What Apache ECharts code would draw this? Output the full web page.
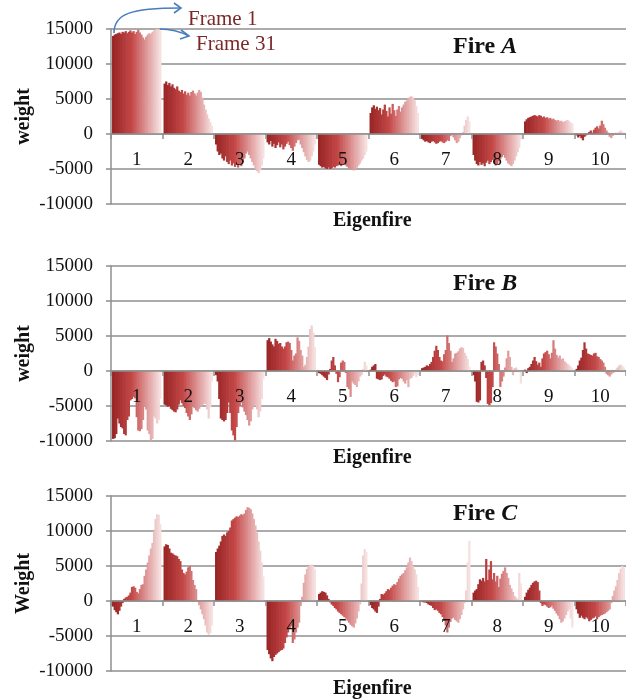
<!DOCTYPE html>
<html>
<head>
<meta charset="utf-8">
<script src="https://cdn.jsdelivr.net/npm/echarts@6/dist/echarts.min.js"></script>
<style>html,body{margin:0;padding:0;background:#fff}#chart{width:626px;height:700px}</style>
</head>
<body>
<div id="chart"></div>
<script>
// Categories (eigenfires) and frame count
const eigenfires = ['1','2','3','4','5','6','7','8','9','10'];
const frameLabels = Array.from({length: 31}, (_, i) => 'Frame ' + (i + 1));
const yTicks = [-10000, -5000, 0, 5000, 10000, 15000];

// Fire A: weights of eigenfire k for frames 1..31
const A1 = [14000,14200,14300,14400,14500,14300,14600,14500,14700,14400,14600,14800,14500,14700,14300,14600,14900,14500,14200,13800,13500,13900,14200,14400,14300,14600,14800,14900,15000,14900,14800];
const A2 = [7200,7500,7000,7300,6800,7100,6600,6400,6800,6200,6000,6300,5800,6100,5600,5900,5500,6000,6200,5800,5500,5900,6300,6000,5200,4200,3500,2800,2200,1700,1200];
const A3 = [-1500,-2500,-3000,-2800,-3500,-3800,-3200,-4000,-4300,-3800,-4500,-4200,-4700,-4400,-4800,-4300,-4600,-4000,-3500,-2800,-2500,-3000,-3500,-4000,-4500,-5000,-5300,-5600,-5200,-4500,-3500];
const A4 = [-1200,-1500,-1000,-1800,-1400,-2000,-1600,-1200,-1900,-1500,-2200,-1800,-1400,-1100,-1600,-2000,-2400,-1800,-1300,-900,-800,-1500,-2000,-2600,-3200,-3700,-4000,-3800,-3200,-2500,-1500];
const A5 = [-4400,-4600,-4800,-4700,-4900,-5000,-4800,-5000,-4900,-4700,-4800,-4600,-4500,-4400,-4600,-4300,-4200,-4500,-4700,-4900,-5000,-5100,-5200,-5000,-4800,-4500,-4200,-3800,-3500,-3000,-2500];
const A6 = [3000,3800,4100,3600,3900,3400,3700,2800,3500,4200,3300,2500,3800,2900,4300,3400,2600,3500,4000,3200,3800,4200,4600,4800,5100,5300,5400,5200,4800,4000,3000];
const A7 = [-700,-900,-1100,-1000,-1200,-1300,-1100,-1000,-1200,-1400,-1300,-1100,-1000,-1200,-1300,-1100,-900,-1000,-300,-100,-500,-900,-1300,-1100,-600,-200,300,1200,2000,2500,1800];
const A8 = [-3000,-3800,-4300,-4500,-4000,-4400,-4200,-4600,-4100,-3800,-4300,-4000,-3700,-4200,-4500,-4300,-3900,-3600,-3300,-3000,-3400,-3800,-4200,-4400,-4600,-4300,-3800,-3200,-2600,-2000,-800];
const A9 = [1800,2100,2300,2400,2500,2600,2700,2600,2500,2700,2600,2400,2500,2300,2400,2200,2300,2100,2200,2000,1900,2000,1800,1900,1700,1800,1900,2000,1800,1600,1500];
const A10 = [-200,-500,-300,-600,-900,-400,-200,100,300,500,200,600,900,1100,800,1200,1900,1400,900,500,200,-400,-600,-300,-100,200,100,300,500,300,200];

// Fire B
const B1 = [-9700,-9600,-9000,-6800,-7500,-8000,-8200,-9000,-9200,-7000,-6500,-4200,-4000,-3700,-3900,-6600,-8500,-8600,-8300,-7000,-5100,-5500,-8500,-9000,-9900,-9700,-6500,-6800,-7500,-7000,-4000];
const B2 = [-4800,-4900,-5100,-5000,-5400,-5600,-5800,-5900,-5500,-4800,-4200,-4600,-5000,-5300,-6000,-6500,-7000,-6200,-5000,-5300,-5600,-5800,-5400,-5100,-4900,-4700,-4700,-5500,-6800,-5200,-1500];
const B3 = [-600,-1500,-4000,-6800,-7000,-7200,-7000,-6000,-4500,-6000,-8500,-9200,-9900,-8000,-6000,-5000,-4500,-5200,-5800,-6300,-7000,-7800,-7200,-5500,-5000,-4800,-5500,-6600,-5800,-4000,-1200];
const B4 = [4400,4700,4200,3800,3500,4600,4300,3900,4000,3500,3200,3500,4100,4200,4000,3000,1500,2200,2500,4800,4300,3000,2200,600,900,2000,3500,6000,6500,5500,3400];
const B5 = [-300,-400,-600,-800,-1000,-1300,-500,300,1500,2000,800,-400,-1600,-900,1200,1500,1300,-300,-2300,-2600,-3700,-1500,-1800,-2000,-2300,-1500,-800,-600,300,1300,800];
const B6 = [200,600,800,1000,-1100,-1200,-1300,-1200,-700,-500,-800,-900,-1100,-1400,-1600,-1500,-2300,-2200,-1200,-1000,-1100,-1500,-1800,-1300,-2300,-1100,-1000,-700,-400,-900,-600];
const B7 = [400,500,600,800,700,1000,1300,2000,2900,3600,3000,2000,1500,1400,2400,3000,5100,4000,2900,1300,1800,2500,2600,2800,3200,3400,3300,2600,2200,1700,600];
const B8 = [-600,-1500,-4400,-4500,-4200,1300,1500,800,-1000,-4700,-4900,-4600,-2300,4100,3500,2500,1000,-2300,-1500,-800,500,1800,2900,2000,600,-600,400,500,200,-200,-1800];
const B9 = [200,-300,400,600,1000,1500,2000,1400,900,1200,600,1800,2500,2700,2900,2400,1800,2600,4400,3200,2300,1900,2200,1700,1800,1400,1200,1000,800,600,400];
const B10 = [300,800,1500,1900,3000,4100,3200,2500,2400,2300,2200,2500,2600,2100,2000,1700,1500,1200,600,-400,-600,-800,-500,-300,-200,200,500,800,900,700,500];

// Fire C
const C1 = [-800,-1300,-1600,-1900,-1400,-800,-300,300,500,600,800,1200,2000,2100,1900,1300,1100,1700,2300,2400,3600,4500,5500,6500,7500,8300,10000,11700,12400,12300,11000];
const C2 = [7800,8100,8000,7500,6900,6800,6600,6500,6400,6000,5700,4500,4000,3800,4200,4800,5000,4300,3000,2300,1700,0,-600,-1200,-1900,-2600,-3500,-4500,-4800,-4600,-3500];
const C3 = [7000,7500,7900,8500,9300,9500,9300,9800,10000,10500,11500,11700,11900,12100,12000,12200,12400,12300,12500,13000,13400,13300,13100,12500,11700,10800,9800,8500,7200,5500,3500];
const C4 = [-7000,-7600,-8200,-8600,-8000,-7700,-7500,-7300,-7100,-7000,-6800,-6000,-5200,-4500,-4000,-3600,-6000,-5500,-4500,-3800,-3100,-700,600,2600,3800,4600,5000,5100,5200,5000,4500];
const C5 = [1000,1200,1400,1300,1200,800,300,-200,-500,-700,-1000,-1200,-1500,-1700,-1900,-2100,-2300,-2500,-2800,-3100,-3400,-3600,-3800,-3200,-2500,-1500,-500,2500,6500,7400,7000];
const C6 = [-600,-1000,-1200,-1500,-1700,-800,300,1000,900,1100,1400,1700,1600,1900,2200,2400,2300,2700,3200,3600,3800,4000,4400,4800,5500,6200,5700,5000,4500,3800,2000];
const C7 = [-100,-200,-200,-300,-500,-600,-700,-1000,-1300,-1200,-1400,-1700,-1900,-2300,-2800,-3500,-4500,-3800,-3000,-2500,-2400,-2700,-2900,-3100,-2600,-2000,-1200,-300,1500,5500,8600];
const C8 = [1200,1500,1700,2400,3100,2900,3300,2800,6000,3000,4500,5700,3100,4000,2800,3600,2000,3200,3900,4300,4800,4000,3300,2300,1800,1300,700,500,300,4000,2500];
const C9 = [600,1200,1600,1900,2300,2600,2800,2900,2700,1500,-300,-700,-500,-600,-800,-1000,-900,-700,-1100,-1400,-1800,-2100,-2600,-3100,-2900,-2500,-2000,-1500,-1200,-2500,-3800];
const C10 = [-1200,-1800,-2400,-2100,-2400,-2600,-2300,-2500,-2900,-2700,-2500,-2400,-2200,-2600,-2300,-2100,-2000,-1900,-1800,-1600,-1400,-1200,-300,700,1500,2100,3000,4000,4600,5000,4800];

const fireA = [A1,A2,A3,A4,A5,A6,A7,A8,A9,A10];
const fireB = [B1,B2,B3,B4,B5,B6,B7,B8,B9,B10];
const fireC = [C1,C2,C3,C4,C5,C6,C7,C8,C9,C10];
const panels = [fireA, fireB, fireC];
const panelLetters = ['A','B','C'];
const yNames = ['weight','weight','Weight'];

const SERIF = '"Liberation Serif", "DejaVu Serif", serif';
const GRID = '#8f8f8f';
const gridTops = [29, 266, 496];
const gridH = 175;
const yMin = yTicks[0], yMax = yTicks[yTicks.length - 1];
// distance of the zero line above the bottom of each plot
const zeroOffset = gridH * (0 - yMin) / (yMax - yMin);

function frameColor(f) {
  const t = f / 30;
  const stops = [[0, [152, 36, 36]], [0.4, [196, 72, 72]], [1, [246, 224, 224]]];
  let a = stops[0], b = stops[1];
  if (t > stops[1][0]) { a = stops[1]; b = stops[2]; }
  const u = (t - a[0]) / (b[0] - a[0]);
  const c = a[1].map((v, i) => Math.round(v + (b[1][i] - v) * u));
  return 'rgb(' + c.join(',') + ')';
}

const grid = gridTops.map(t => ({ left: 111, top: t, width: 518, height: gridH, containLabel: false }));

const xAxis = gridTops.map((t, p) => ({
  type: 'category', gridIndex: p, data: eigenfires, z: 6,
  position: 'bottom', offset: -zeroOffset,
  axisLine: { onZero: false, lineStyle: { color: GRID, width: 1.5 } },
  axisTick: { show: true, interval: 0, length: 5, lineStyle: { color: GRID, width: 1.5 } },
  axisLabel: { interval: 0, margin: 17, fontFamily: SERIF, fontSize: 19, color: '#111' },
  splitLine: { show: false }
}));

const yAxis = gridTops.map((t, p) => ({
  type: 'value', gridIndex: p, min: yMin, max: yMax, interval: 5000,
  axisLine: { show: true, lineStyle: { color: GRID, width: 1.5 } },
  axisTick: { show: true, length: 5, lineStyle: { color: GRID, width: 1.5 } },
  axisLabel: { margin: 18, fontFamily: SERIF, fontSize: 19, color: '#111', formatter: v => String(v) },
  splitLine: { show: true, lineStyle: { color: GRID, width: 1.5 } },
  name: yNames[p], nameLocation: 'middle', nameGap: 77, nameMoveOverlap: false,
  nameTextStyle: { fontFamily: SERIF, fontWeight: 'bold', fontSize: 20, color: '#111' }
}));

const series = [];
panels.forEach((fire, p) => {
  frameLabels.forEach((fl, f) => {
    const col = frameColor(f);
    series.push({
      type: 'bar', name: fl, xAxisIndex: p, yAxisIndex: p,
      data: fire.map(g => g[f]),
      barGap: '-30%', barCategoryGap: '4%',
      itemStyle: { color: col },
      silent: true
    });
  });
});

const title = [];
panelLetters.forEach((L, p) => {
  title.push({
    text: '{n|Fire }{i|' + L + '}', left: 453, top: gridTops[p] + 6, padding: 0,
    textStyle: { rich: {
      n: { fontFamily: SERIF, fontSize: 24, color: '#111' },
      i: { fontFamily: SERIF, fontSize: 24, fontStyle: 'italic', color: '#111' }
    } }
  });
});
const eigenY = [220, 457, 688];
eigenY.forEach(y => {
  title.push({
    text: 'Eigenfire', left: 333, top: y - 9, padding: 0,
    textStyle: { fontFamily: SERIF, fontSize: 20, fontWeight: 'bold', color: '#111' }
  });
});

const ARROW = { stroke: '#4a7ebb', fill: null, lineWidth: 1.6 };
const chart = echarts.init(document.getElementById('chart'), null, { renderer: 'canvas' });
chart.setOption({
  animation: false,
  backgroundColor: '#fff',
  title: title,
  grid: grid,
  xAxis: xAxis,
  yAxis: yAxis,
  series: series,
  graphic: [
    { type: 'text', x: 188, y: 19, z: 20, style: { text: 'Frame 1', font: '21px ' + SERIF, fill: '#7a2828', textVerticalAlign: 'middle' } },
    { type: 'text', x: 196, y: 44, z: 20, style: { text: 'Frame 31', font: '21px ' + SERIF, fill: '#7a2828', textVerticalAlign: 'middle' } },
    { type: 'bezierCurve', z: 20, shape: { x1: 114, y1: 33, cpx1: 114, cpy1: 14, cpx2: 130, cpy2: 8, x2: 181, y2: 8 }, style: ARROW },
    { type: 'polyline', z: 20, shape: { points: [[174, 3], [181, 8], [174, 13]] }, style: ARROW },
    { type: 'bezierCurve', z: 20, shape: { x1: 160, y1: 29, cpx1: 172, cpy1: 29, cpx2: 181, cpy2: 32, x2: 189, y2: 36 }, style: ARROW },
    { type: 'polyline', z: 20, shape: { points: [[181, 30], [189, 36], [180, 39]] }, style: ARROW }
  ]
});
</script>
</body>
</html>
